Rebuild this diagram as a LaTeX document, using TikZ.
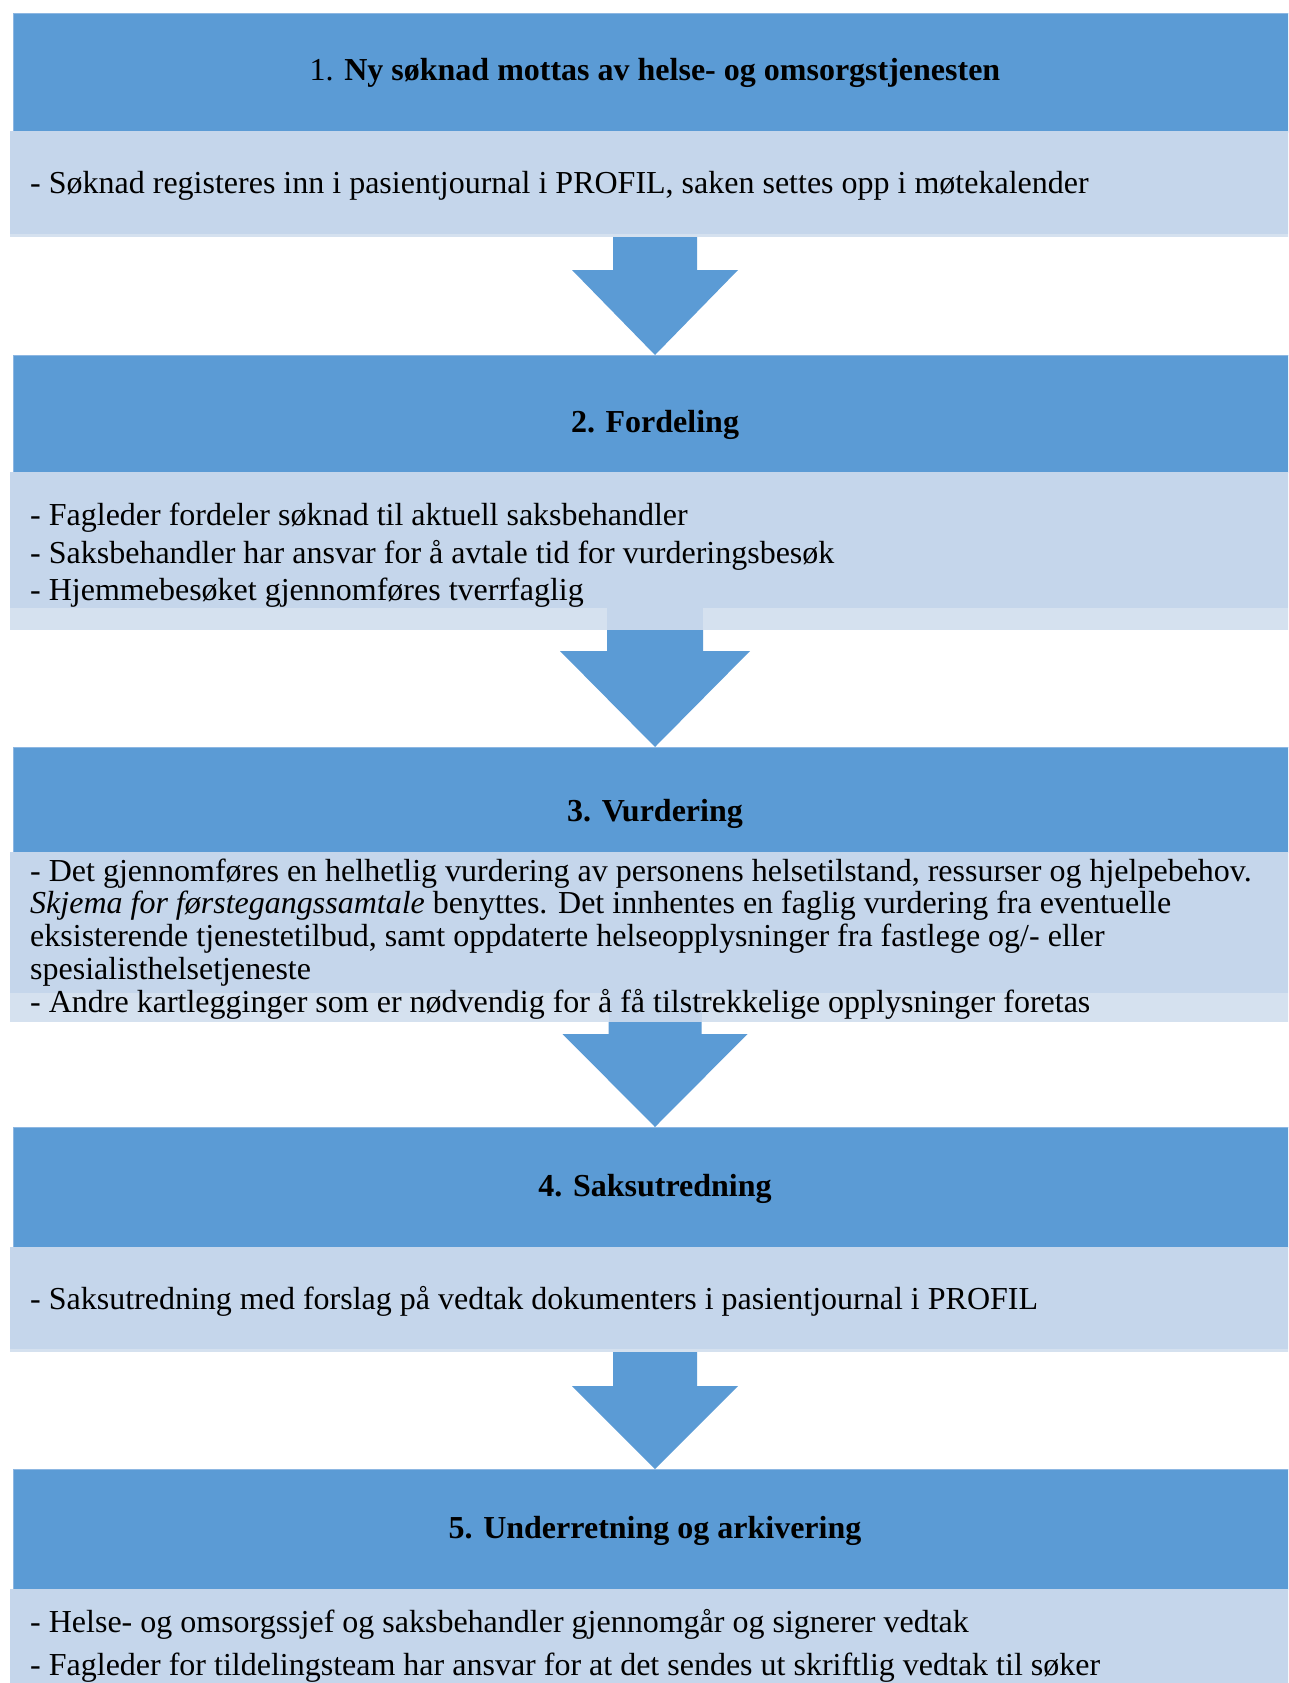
\documentclass[tikz,border=0pt]{standalone}
\usepackage{fontspec}
\setmainfont{Liberation Serif}
\usetikzlibrary{calc}
\definecolor{hdrblue}{HTML}{5B9BD5}
\definecolor{bodyblue}{HTML}{C5D6EB}
\definecolor{stripblue}{HTML}{D5E1EF}
\definecolor{hdredge}{HTML}{8DB7E2}
\newcommand\flowarrow[5]{%
  \fill[hdrblue] ($(#1.south)+(-#3,0)$) -- ($(#1.south)+(#3,0)$)
    -- ($(#2.north)+(#3,-#5)$) -- ($(#2.north)+(#4,-#5)$) -- (#2.north)
    -- ($(#2.north)+(-#4,-#5)$) -- ($(#2.north)+(-#3,-#5)$) -- cycle;}
\begin{document}
\begin{tikzpicture}[x=1pt,y=-1pt,
  hdr/.style={fill=hdrblue, draw=hdredge, line width=0.8pt, inner sep=0pt, outer sep=0pt,
    anchor=north west, minimum width=1284pt},
  bodybox/.style={fill=bodyblue, inner sep=0pt, outer sep=0pt,
    anchor=north west, minimum width=1290pt},
  stripbox/.style={fill=stripblue, inner sep=0pt, outer sep=0pt,
    anchor=north west, minimum width=1290pt},
  txt/.style={anchor=base west, inner sep=0pt, font=\fontsize{32}{38}\selectfont},
  ttl/.style={anchor=base, inner sep=0pt, font=\fontsize{32}{38}\selectfont\bfseries}]
\useasboundingbox (0,0) rectangle (1288,1683);
\clip (0,0) rectangle (1288,1683);
\fill[white] (0,0) rectangle (1288,1683);

% box 1
\node[hdr, minimum height=119pt] (h1) at (13,13) {};
\node[bodybox, minimum height=103pt] (b1) at (10,131) {};
\node[stripbox, minimum height=3pt] (s1) at (10,234) {};
% box 2
\node[hdr, minimum height=117pt] (h2) at (13,355) {};
\node[bodybox, minimum height=136pt] (b2) at (10,472) {};
\node[stripbox, minimum height=22pt] (s2) at (10,608) {};
% box 3
\node[hdr, minimum height=105pt] (h3) at (13,747) {};
\node[bodybox, minimum height=141pt] (b3) at (10,852) {};
\node[stripbox, minimum height=29pt] (s3) at (10,993) {};
% box 4
\node[hdr, minimum height=120pt] (h4) at (13,1127) {};
\node[bodybox, minimum height=102pt] (b4) at (10,1247) {};
\node[stripbox, minimum height=3pt] (s4) at (10,1349) {};
% box 5
\node[hdr, minimum height=120pt] (h5) at (13,1469) {};
\node[bodybox, minimum height=110pt] (b5) at (10,1589) {};

% shaft parts inside the strips
\fill[bodyblue] ($(s2.north)+(-48,0)$) rectangle ($(s2.south)+(48,0)$);
\fill[bodyblue] ($(s3.north)+(-46.5,0)$) rectangle ($(s3.south)+(46.5,0)$);

% arrows
\flowarrow{s1}{h2}{42}{83}{85}
\flowarrow{s2}{h3}{48}{95}{96}
\flowarrow{s3}{h4}{46.5}{92.5}{93}
\flowarrow{s4}{h5}{42}{83}{83}

% texts
\node[txt, anchor=base] (t1) at (655,81) {1. \textbf{Ny søknad mottas av helse- og omsorgstjenesten}};
\node[txt] (t1a) at (30,193) {- Søknad registeres inn i pasientjournal i PROFIL, saken settes opp i møtekalender};

\node[ttl] (t2) at (655,432) {2. Fordeling};
\node[txt] (t2a) at (30,525) {- Fagleder fordeler søknad til aktuell saksbehandler};
\node[txt] (t2b) at (30,563) {- Saksbehandler har ansvar for å avtale tid for vurderingsbesøk};
\node[txt] (t2c) at (30,600) {- Hjemmebesøket gjennomføres tverrfaglig};

\node[ttl] (t3) at (655,821) {3. Vurdering};
\node[txt] (t3a) at (30,881) {- Det gjennomføres en helhetlig vurdering av personens helsetilstand, ressurser og hjelpebehov.};
\node[txt] (t3b) at (30,913) {\textit{Skjema for førstegangssamtale} benyttes. Det innhentes en faglig vurdering fra eventuelle};
\node[txt] (t3c) at (30,946) {eksisterende tjenestetilbud, samt oppdaterte helseopplysninger fra fastlege og/- eller};
\node[txt] (t3d) at (30,979) {spesialisthelsetjeneste};
\node[txt] (t3e) at (30,1012) {- Andre kartlegginger som er nødvendig for å få tilstrekkelige opplysninger foretas};

\node[ttl] (t4) at (655,1196) {4. Saksutredning};
\node[txt] (t4a) at (30,1309) {- Saksutredning med forslag på vedtak dokumenters i pasientjournal i PROFIL};

\node[ttl] (t5) at (655,1538) {5. Underretning og arkivering};
\node[txt] (t5a) at (30,1632) {- Helse- og omsorgssjef og saksbehandler gjennomgår og signerer vedtak};
\node[txt] (t5b) at (30,1675) {- Fagleder for tildelingsteam har ansvar for at det sendes ut skriftlig vedtak til søker};
\end{tikzpicture}
\end{document}
